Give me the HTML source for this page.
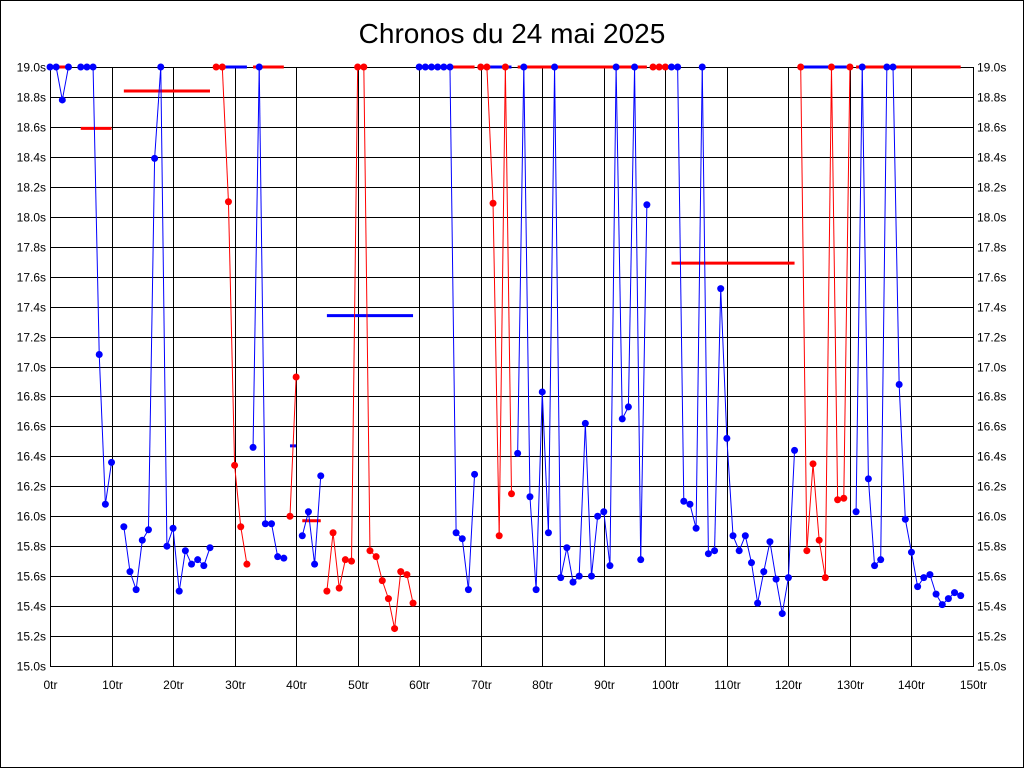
<!DOCTYPE html>
<html><head><meta charset="utf-8"><style>
html,body{margin:0;padding:0;background:#fff}
svg{display:block}
text{font-family:"Liberation Sans",sans-serif}
</style></head><body>
<svg id="chart" width="1024" height="768" xmlns="http://www.w3.org/2000/svg">
<rect x="0.5" y="0.5" width="1023" height="767" fill="#fff" stroke="#000"/>
<text x="512" y="43" font-size="28" text-anchor="middle">Chronos du 24 mai 2025</text>
<g id="grid"></g>
<g id="axes"></g>
<g id="bars"></g>
<g id="lines"></g>
<g id="dots"></g>
</svg>
<script>
const yTicks = [15.0,15.2,15.4,15.6,15.8,16.0,16.2,16.4,16.6,16.8,17.0,17.2,17.4,17.6,17.8,18.0,18.2,18.4,18.6,18.8,19.0];
const xTicks = [0,10,20,30,40,50,60,70,80,90,100,110,120,130,140,150];
const times = [19,19,18.78,19,null,19,19,19,17.08,16.08,16.36,null,15.93,15.63,15.51,15.84,15.91,18.39,19,15.80,
15.92,15.50,15.77,15.68,15.71,15.67,15.79,19,19,18.10,16.34,15.93,15.68,16.46,19,15.95,15.95,15.73,15.72,16.00,
16.93,15.87,16.03,15.68,16.27,15.50,15.89,15.52,15.71,15.70,19,19,15.77,15.73,15.57,15.45,15.25,15.63,15.61,15.42,
19,19,19,19,19,19,15.89,15.85,15.51,16.28,19,19,18.09,15.87,19,16.15,16.42,19,16.13,15.51,
16.83,15.89,19,15.59,15.79,15.56,15.60,16.62,15.60,16.00,16.03,15.67,19,16.65,16.73,19,15.71,18.08,19,19,
19,19,19,16.10,16.08,15.92,19,15.75,15.77,17.52,16.52,15.87,15.77,15.87,15.69,15.42,15.63,15.83,15.58,15.35,
15.59,16.44,19,15.77,16.35,15.84,15.59,19,16.11,16.12,19,16.03,19,16.25,15.67,15.71,19,19,16.88,15.98,
15.76,15.53,15.59,15.61,15.48,15.41,15.45,15.49,15.47];
const runColor  = ['B','R','B','R','B','R','B','R','B','R','B','R','B'];
const runLength = [27,6,6,2,4,15,10,6,22,3,21,9,18];
const barStart = [1,5,12,27,33,39,41,45,65,71,76,98,101,122,131];
const barEnd   = [3,10,26,32,38,40,44,59,69,75,97,102,121,130,148];
const barValue = [19,18.59,18.84,19,19,16.47,15.97,17.34,19,19,19,19,17.69,19,19];
const barColor = "RRRBRBRBRBRBRBR";

const colors=[];
runColor.forEach((c,i)=>{for(let k=0;k<runLength[i];k++)colors.push(c);});

const X0=50,X1=973,Y0=666,Y1=67;
const xs = t => X0 + (t-0)/(150-0)*(X1-X0);
const ys = v => Y0 - (v-15)/(19-15)*(Y0-Y1);
const col = c => c==='R' ? '#ff0000' : '#0000ff';
const NS="http://www.w3.org/2000/svg";
function mk(tag, attrs, parent){const e=document.createElementNS(NS,tag);for(const k in attrs)e.setAttribute(k,attrs[k]);document.getElementById(parent).appendChild(e);return e;}

yTicks.forEach(v=>{
  const y=Math.round(ys(v))+0.5;
  const l=mk('line',{x1:X0,x2:X1,y1:y,y2:y,stroke:'#000','stroke-width':1},'grid');
  
  
  const t1=mk('text',{x:46,y:y+4,'font-size':12,'text-anchor':'end'},'axes');
  t1.textContent=v.toFixed(1)+'s';
  
  
  const t2=mk('text',{x:977,y:y+4,'font-size':12,'text-anchor':'start'},'axes');
  t2.textContent=v.toFixed(1)+'s';
  
  
});
xTicks.forEach(t=>{
  const x=Math.round(xs(t))+0.5;
  const l=mk('line',{x1:x,x2:x,y1:Y1,y2:Y0,stroke:'#000','stroke-width':1},'grid');
  
  
  const tx=mk('text',{x:x,y:689,'font-size':12,'text-anchor':'middle'},'axes');
  tx.textContent=t+'tr';
  
  
});
barStart.forEach((s,i)=>{
  const y=ys(barValue[i]);
  const b=mk('line',{x1:xs(s),x2:xs(barEnd[i]),y1:y,y2:y,stroke:col(barColor[i]),'stroke-width':3},'bars');
  
  
});
for(let i=1;i<times.length;i++){
  if(times[i]==null||times[i-1]==null||colors[i]!==colors[i-1])continue;
  const l=mk('line',{x1:xs(i-1),y1:ys(times[i-1]),x2:xs(i),y2:ys(times[i]),stroke:col(colors[i]),'stroke-width':1},'lines');
  
  
}
times.forEach((v,i)=>{
  if(v==null)return;
  const c=mk('circle',{cx:xs(i),cy:ys(v),r:3.5,fill:col(colors[i])},'dots');
  
  
});
const frame=mk('rect',{x:X0+0.5,y:Y1+0.5,width:X1-X0,height:Y0-Y1,fill:'none',stroke:'#000'},'axes');


</script>
</body></html>
